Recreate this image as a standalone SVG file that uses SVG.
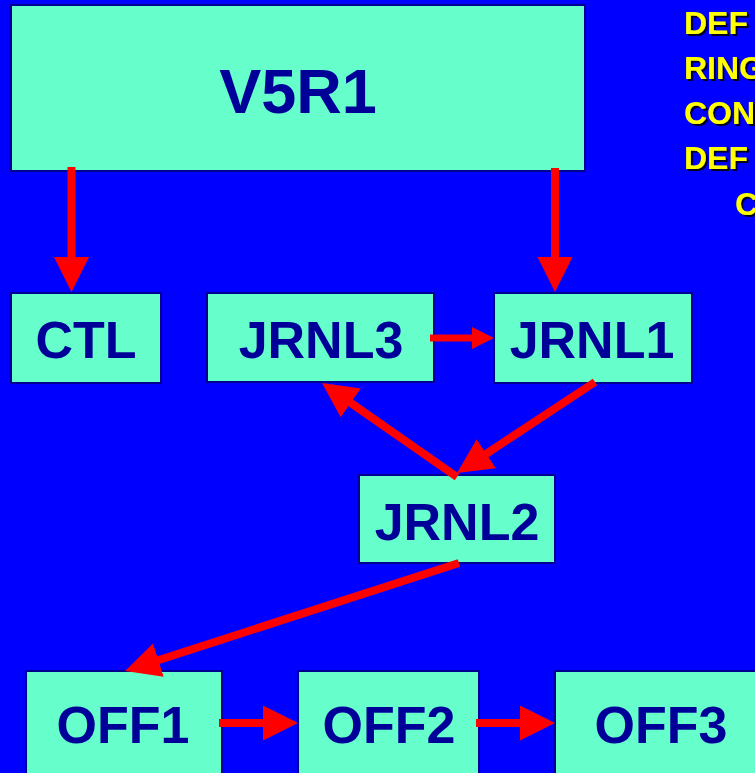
<svg xmlns="http://www.w3.org/2000/svg" width="755" height="773" viewBox="0 0 755 773">
<style>
.box{fill:#66FFCC;stroke:#000090;stroke-width:2}
.lbl{font-family:"Liberation Sans",Arial,sans-serif;font-weight:bold;fill:#000099;text-anchor:middle;font-size:52px}
.big{font-size:63px}
.note{font-family:"Liberation Sans",Arial,sans-serif;font-weight:bold;font-size:32px;fill:#FFFF00;filter:url(#sh)}
.c{stroke:#FF0000;stroke-width:8;fill:none}
.cs{stroke:#FF0000;stroke-width:7;fill:none}
</style>
<defs>
<filter id="sh" x="-10%" y="-20%" width="130%" height="150%">
<feDropShadow dx="2" dy="2" stdDeviation="0.6" flood-color="#000022" flood-opacity="1"/>
</filter>
<marker id="ah" markerUnits="userSpaceOnUse" markerWidth="36" markerHeight="36" refX="1" refY="17.5" orient="auto" viewBox="0 0 36 36">
<path d="M0,0 L35,17.5 L0,35 Z" fill="#FF0000"/>
</marker>
<marker id="ahs" markerUnits="userSpaceOnUse" markerWidth="23" markerHeight="23" refX="1" refY="11" orient="auto" viewBox="0 0 23 23">
<path d="M0,0 L22,11 L0,22 Z" fill="#FF0000"/>
</marker>
</defs>
<rect width="755" height="773" fill="#0000FF"/>

<g id="notes">
<text class="note" x="684" y="34">DEF</text>
<text class="note" x="684" y="79">RING</text>
<text class="note" x="684" y="124">CON</text>
<text class="note" x="684" y="169">DEF</text>
<text class="note" x="735" y="215">C</text>
</g>

<g id="V5R1"><rect class="box" x="11" y="5" width="574" height="166"/><text class="lbl big" x="298" y="113">V5R1</text></g>
<g id="CTL"><rect class="box" x="11" y="293" width="150" height="90"/><text class="lbl" x="86" y="358">CTL</text></g>
<g id="JRNL3"><rect class="box" x="207" y="293" width="227" height="89"/><text class="lbl" x="321" y="358">JRNL3</text></g>
<g id="JRNL1"><rect class="box" x="494" y="293" width="198" height="90"/><text class="lbl" x="592" y="358">JRNL1</text></g>
<g id="JRNL2"><rect class="box" x="359" y="475" width="196" height="88"/><text class="lbl" x="457" y="540">JRNL2</text></g>
<g id="OFF1"><rect class="box" x="26" y="671" width="196" height="110"/><text class="lbl" x="123" y="743">OFF1</text></g>
<g id="OFF2"><rect class="box" x="298" y="671" width="181" height="110"/><text class="lbl" x="389" y="743">OFF2</text></g>
<g id="OFF3"><rect class="box" x="555" y="671" width="213" height="110"/><text class="lbl" x="661" y="743">OFF3</text></g>

<g id="connectors">
<line class="c" x1="71.5" y1="167" x2="71.5" y2="258" marker-end="url(#ah)"/>
<line class="c" x1="555" y1="168" x2="555" y2="258" marker-end="url(#ah)"/>
<line class="cs" x1="430" y1="338" x2="473" y2="338" marker-end="url(#ahs)"/>
<line class="c" x1="595" y1="382" x2="485.4" y2="454.3" marker-end="url(#ah)"/>
<line class="c" x1="457" y1="477" x2="349.9" y2="402.4" marker-end="url(#ah)"/>
<line class="c" x1="459" y1="563" x2="157.4" y2="660.5" marker-end="url(#ah)"/>
<line class="c" x1="219" y1="723" x2="264" y2="723" marker-end="url(#ah)"/>
<line class="c" x1="476" y1="723" x2="521" y2="723" marker-end="url(#ah)"/>
</g>
</svg>
